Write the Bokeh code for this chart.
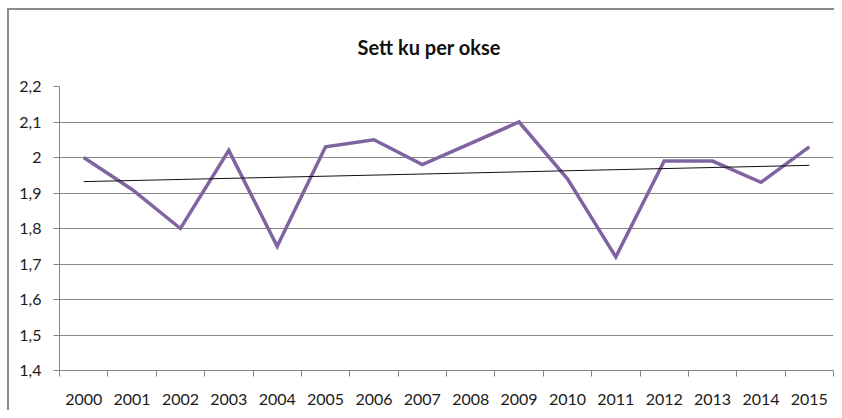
import numpy as np
from bokeh.plotting import figure
from bokeh.models import FixedTicker, ColumnDataSource
from bokeh.embed import file_html
from bokeh.resources import INLINE

years = list(range(2000, 2016))
values = [2.00, 1.91, 1.80, 2.02, 1.75, 2.03, 2.05, 1.98, 2.04, 2.10, 1.94, 1.72, 1.99, 1.99, 1.93, 2.03]
y_ticks = [1.4, 1.5, 1.6, 1.7, 1.8, 1.9, 2.0, 2.1, 2.2]
y_tick_labels = ["1,4", "1,5", "1,6", "1,7", "1,8", "1,9", "2", "2,1", "2,2"]
title_text = "Sett ku per okse"

GRID = "#868686"
FONT = "Lato"
BORDER = "#8a8a8a"

p = figure(width=834, height=410,
           min_border_left=59, min_border_top=86, min_border_right=1, min_border_bottom=40,
           x_range=(1999.5, 2015.5), y_range=(1.4, 2.2),
           output_backend="svg", toolbar_location=None,
           background_fill_color="white", border_fill_color=None)
p.outline_line_color = None
# chart-area border: left and top edges, drawn as CSS background behind the transparent canvas
p.styles = {
    "background-color": "white",
    "background-image": f"linear-gradient({BORDER},{BORDER}), linear-gradient({BORDER},{BORDER})",
    "background-size": "2px 100%, 100% 2px",
    "background-position": "7px 8px, 7px 8px",
    "background-repeat": "no-repeat",
}

p.title.text = title_text
p.title.align = "left"
p.title.offset = 298
p.title.standoff = 56
p.title.text_font = FONT
p.title.text_font_style = "bold"
p.title.text_font_size = "20px"
p.title.text_color = "#111111"

# axes
p.xaxis.ticker = FixedTicker(ticks=years, minor_ticks=[y + 0.5 for y in [1999] + years])
p.xaxis.major_tick_out = 0
p.xaxis.major_tick_in = 0
p.xaxis.minor_tick_out = 6
p.xaxis.minor_tick_in = 0
p.xaxis.minor_tick_line_color = GRID
p.xaxis.axis_line_color = GRID
p.xaxis.major_label_text_font = FONT
p.xaxis.major_label_text_font_size = "16px"
p.xaxis.major_label_text_color = "#1a1a1a"
p.xaxis.major_label_standoff = 17

p.yaxis.ticker = FixedTicker(ticks=y_ticks)
p.yaxis.major_label_overrides = {t: l for t, l in zip(y_ticks, y_tick_labels)}
p.yaxis.major_tick_out = 6
p.yaxis.major_tick_in = 0
p.yaxis.minor_tick_line_color = None
p.yaxis.major_tick_line_color = GRID
p.yaxis.axis_line_color = GRID
p.yaxis.major_label_text_font = FONT
p.yaxis.major_label_text_font_size = "16px"
p.yaxis.major_label_text_color = "#1a1a1a"
p.yaxis.major_label_standoff = 12

p.xgrid.grid_line_color = None
p.ygrid.grid_line_color = GRID
p.ygrid.grid_line_width = 1

src = ColumnDataSource(dict(x=years, y=values))
p.line("x", "y", source=src, line_color="#8064A2", line_width=3.5, line_join="miter")

# linear trend line (Excel trendline), fitted to the data
slope, intercept = np.polyfit(years, values, 1)
tx = [years[0], years[-1]]
ty = [slope * x + intercept for x in tx]
p.line(tx, ty, line_color="#111111", line_width=1)

open("out.html", "w").write(file_html(p, INLINE))
